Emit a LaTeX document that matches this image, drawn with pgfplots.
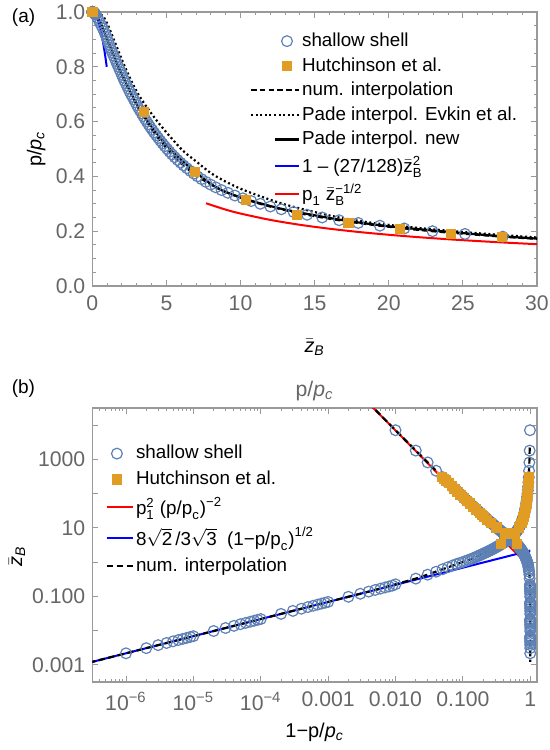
\documentclass[border=0pt]{standalone}
\usepackage{fontspec}
\setmainfont{Liberation Sans}
\usepackage{amsmath}
\usepackage{pgfplots}
\pgfplotsset{compat=1.18}
\usepackage{pgfplotstable}
\definecolor{circ}{RGB}{94,129,181}
\definecolor{hutch}{RGB}{225,156,36}
\definecolor{framegray}{gray}{0.6}
\definecolor{labgray}{gray}{0.4}

% shallow shell data: p/pc, 1-p/pc, zB
\pgfplotstableread{
p omp z
0.999999 1e-6 0.002177
0.999998 2e-6 0.003079
0.999997 3e-6 0.003771
0.999996 4e-6 0.004355
0.999995 5e-6 0.004869
0.999994 6e-6 0.005333
0.999993 7e-6 0.005761
0.999992 8e-6 0.006158
0.999991 9e-6 0.006532
0.99999 1e-5 0.006885
0.99998 2e-5 0.009737
0.99997 3e-5 0.011926
0.99996 4e-5 0.013771
0.99995 5e-5 0.015396
0.99994 6e-5 0.016866
0.99993 7e-5 0.018217
0.99992 8e-5 0.019475
0.99991 9e-5 0.020656
0.9999 1e-4 0.02177
0.9998 2e-4 0.03079
0.9997 3e-4 0.03771
0.9996 4e-4 0.04355
0.9995 5e-4 0.04869
0.9994 6e-4 0.05333
0.9993 7e-4 0.05761
0.9992 8e-4 0.06158
0.9991 9e-4 0.06532
0.999 0.001 0.06885
0.998 0.002 0.09737
0.997 0.003 0.11926
0.996 0.004 0.13771
0.995 0.005 0.15396
0.994 0.006 0.16866
0.993 0.007 0.18217
0.992 0.008 0.19475
0.991 0.009 0.20656
0.99 0.01 0.225
0.98 0.02 0.33
0.97 0.03 0.43
0.96 0.04 0.525
0.95 0.05 0.62
0.94 0.06 0.71
0.93 0.07 0.795
0.92 0.08 0.875
0.91 0.09 0.945
0.90 0.10 1.01
0.89 0.11 1.08
0.88 0.12 1.15
0.87 0.13 1.22
0.86 0.14 1.29
0.85 0.15 1.36
0.84 0.16 1.44
0.83 0.17 1.52
0.82 0.18 1.60
0.81 0.19 1.68
0.80 0.20 1.76
0.79 0.21 1.84
0.78 0.22 1.92
0.77 0.23 2.00
0.76 0.24 2.08
0.75 0.25 2.16
0.74 0.26 2.25
0.73 0.27 2.34
0.72 0.28 2.43
0.71 0.29 2.52
0.70 0.30 2.61
0.69 0.31 2.71
0.68 0.32 2.81
0.67 0.33 2.91
0.66 0.34 3.01
0.65 0.35 3.11
0.64 0.36 3.22
0.63 0.37 3.33
0.62 0.38 3.44
0.61 0.39 3.55
0.60 0.40 3.67
0.59 0.41 3.79
0.58 0.42 3.91
0.57 0.43 4.04
0.56 0.44 4.17
0.55 0.45 4.31
0.54 0.46 4.45
0.53 0.47 4.59
0.52 0.48 4.74
0.51 0.49 4.89
0.50 0.50 5.05
0.49 0.51 5.21
0.48 0.52 5.38
0.47 0.53 5.56
0.46 0.54 5.75
0.45 0.55 5.95
0.44 0.56 6.16
0.43 0.57 6.38
0.42 0.58 6.61
0.41 0.59 6.85
0.40 0.60 7.10
0.39 0.61 7.37
0.38 0.62 7.66
0.37 0.63 7.98
0.36 0.64 8.33
0.35 0.65 8.72
0.34 0.66 9.15
0.33 0.67 9.62
0.32 0.68 10.15
0.31 0.69 10.72
0.30 0.70 11.33
0.29 0.71 12.01
0.28 0.72 12.75
0.27 0.73 13.58
0.26 0.74 14.49
0.25 0.75 15.51
0.24 0.76 16.65
0.23 0.77 17.94
0.22 0.78 19.40
0.21 0.79 21.05
0.20 0.80 22.95
0.19 0.81 25.14
0.18 0.82 27.69
0.17 0.83 30.68
0.16 0.84 34.23
0.15 0.85 38.47
0.14 0.86 43.62
0.13 0.87 49.95
0.12 0.88 57.87
0.11 0.89 67.99
0.10 0.90 81.17
0.09 0.91 98.86
0.08 0.92 123.4
0.07 0.93 158.9
0.06 0.94 213.2
0.05 0.95 302.5
0.04 0.96 465.6
0.03 0.97 815
0.02 0.98 1805
0.01 0.99 7105
}\shallow

% Hutchinson et al.: zB, p/pc, 1-p/pc
\pgfplotstableread{
z p omp
3.455 0.634 0.366
6.91 0.417 0.583
10.37 0.314 0.686
13.82 0.259 0.741
17.28 0.229 0.771
20.73 0.207 0.793
24.19 0.190 0.810
27.64 0.178 0.822
34.55 0.1567 0.8433
41.46 0.1419 0.8581
51.83 0.1258 0.8742
62.19 0.1141 0.8859
76.01 0.1025 0.8975
93.29 0.0919 0.9081
114.0 0.0827 0.9173
138.2 0.0747 0.9253
165.8 0.0679 0.9321
200.4 0.0616 0.9384
241.9 0.0558 0.9442
276.4 0.0521 0.9479
311.0 0.0490 0.9510
}\hutchtab

\pgfplotsset{
  mystyle/.style={
    scale only axis, width=222.35bp, height=137bp, anchor=south west,
    axis line style={draw=framegray, line width=0.55bp},
    tick style={draw=framegray, line width=0.45bp},
    major tick length=3bp, minor tick length=1.7bp,
    tick label style={text=labgray, font=\fontsize{10.6bp}{12bp}\selectfont},
    label style={text=labgray, font=\fontsize{10.6bp}{12bp}\selectfont},
    xticklabel style={yshift=-1.5bp},
    legend style={draw=none, fill=none, text=black,
      font=\fontsize{9.4bp}{11bp}\selectfont, row sep=2bp, inner sep=1bp,
      nodes={inner sep=1bp}},
    legend cell align=left,
    every axis title shift=0pt,
  },
  circstyle/.style={only marks, mark=o, mark size=2.7bp, circ, mark options={line width=0.6bp}},
  sqstyle/.style={only marks, mark=square*, mark size=2.3bp, hutch},
  legmarkA/.style={legend image code/.code={\draw[mark repeat=2,mark phase=2,##1] plot coordinates {(12bp,0bp) (18bp,0bp) (24bp,0bp)};}},
  leglongA/.style={legend image code/.code={\draw[##1] (0bp,0bp) -- (24bp,0bp);}},
  legshortA/.style={legend image code/.code={\draw[##1] (12bp,0bp) -- (24bp,0bp);}},
  legmarkB/.style={legend image code/.code={\draw[mark repeat=2,mark phase=2,##1] plot coordinates {(0bp,0bp) (5bp,0bp) (10bp,0bp)};}},
  leglineB/.style={legend image code/.code={\draw[##1] (0bp,0bp) -- (13bp,0bp);}},
}

\begin{document}
\begin{tikzpicture}
\path[use as bounding box] (0,0) rectangle (275bp,375bp);

% ---------------- panel (a)
\begin{axis}[mystyle, at={(46.15bp,232bp)},
  xmin=0, xmax=30, ymin=0, ymax=1,
  xtick={0,5,10,15,20,25,30}, xticklabels={0,5,10,15,20,25,30},
  ytick={0,0.2,0.4,0.6,0.8,1}, yticklabels={0.0,0.2,0.4,0.6,0.8,1.0},
  minor x tick num=4, minor y tick num=3,
  every axis x label/.style={at={(rel axis cs:0.5,0)}, yshift=-30.5bp, anchor=center},
  every axis y label/.style={at={(rel axis cs:0,0.5)}, xshift=-28bp, rotate=90, anchor=center},
  xlabel={$\bar{\textit{z}}_{\textit{B}}$},
  ylabel={p/\textit{p}\textsubscript{\textit{c}}},
  legend style={at={(0.965,0.94)}, anchor=north east},
]
\addplot[circstyle, restrict x to domain=0:30.5, legmarkA]
  table[x=z, y=p] {\shallow};
\addlegendentry{shallow shell}
\addplot[sqstyle, legmarkA]
  coordinates {(0,1) (3.455,0.634) (6.91,0.417) (10.37,0.314) (13.82,0.259) (17.28,0.229) (20.73,0.207) (24.19,0.190) (27.64,0.178)};
\addlegendentry{Hutchinson et al.}
\addplot[black, line width=1.1bp, dash pattern=on 2.8bp off 1.6bp, smooth, leglongA]
  coordinates {(0,1) (0.0689,0.999) (0.154,0.995) (0.225,0.99) (0.33,0.98) (0.43,0.97) (0.62,0.95) (1.01,0.90) (1.36,0.85) (1.76,0.80) (2.16,0.75) (2.61,0.70) (3.11,0.65) (3.67,0.60) (4.31,0.55) (5.05,0.50) (5.95,0.45) (7.10,0.40) (8.72,0.35) (10.15,0.32) (11.33,0.30) (12.75,0.28) (14.49,0.26) (16.65,0.24) (19.40,0.22) (22.95,0.20) (27.69,0.18) (30.68,0.17)};
\addlegendentry{num. interpolation}
\addplot[black, line width=1.1bp, dash pattern=on 1bp off 1.3bp, smooth, leglongA]
  coordinates {(0,1) (0.5,0.995) (0.9,0.97) (1.42,0.904) (2.2,0.80) (3.1,0.70) (4.4,0.60) (6.0,0.50) (7.0,0.455) (8.2,0.405) (10,0.355) (12.66,0.303) (15,0.27) (17.15,0.245) (20,0.223) (25,0.197) (30,0.177)};
\addlegendentry{Pade interpol. Evkin et al.}
\addplot[black, line width=1.1bp, smooth, legshortA]
  coordinates {(0,1) (0.3,0.99) (0.6,0.955) (0.97,0.904) (1.4,0.85) (1.75,0.80) (2.2,0.75) (2.65,0.70) (3.15,0.65) (3.75,0.60) (4.45,0.55) (5.24,0.50) (6.1,0.455) (7.2,0.405) (8.2,0.365) (9,0.343) (10.41,0.316) (12.66,0.283) (14.9,0.259) (17.15,0.238) (20,0.218) (22.5,0.205) (25,0.193) (27.5,0.182) (30,0.173)};
\addlegendentry{Pade interpol. new}
\addplot[blue, line width=1bp, smooth, legshortA]
  coordinates {(0,1) (0.2,0.9916) (0.4,0.9663) (0.5,0.9473) (0.6,0.9241) (0.7,0.8967) (0.8,0.8650) (0.9,0.8292) (0.974,0.7999)};
\addlegendentry{$\text{1 – (27/128)}\bar{\text{z}}_{\text{B}}^{\text{2}}$}
\addplot[red, line width=1bp, smooth, legshortA]
  coordinates {(7.67,0.3019) (9,0.2787) (10,0.2644) (12,0.2413) (14,0.2234) (16,0.2090) (18,0.1970) (20,0.1869) (22,0.1782) (24,0.1706) (26,0.1640) (28,0.1580) (30,0.1526)};
\addlegendentry{$\text{p}_{\text{1}}\;\bar{\text{z}}_{\text{B}}^{\text{−1/2}}$}
\end{axis}

% ---------------- panel (b)
\begin{axis}[mystyle, at={(46.15bp,34bp)},
  xmode=log, ymode=log,
  xmin=3.162e-7, xmax=1.259, ymin=3.162e-4, ymax=3.162e4,
  xtick={1e-6,1e-5,1e-4,1e-3,1e-2,1e-1,1},
  xticklabels={10\textsuperscript{−6},10\textsuperscript{−5},10\textsuperscript{−4},0.001,0.010,0.100,1},
  minor xtick={4e-7,5e-7,6e-7,7e-7,8e-7,9e-7,
    2e-6,3e-6,4e-6,5e-6,6e-6,7e-6,8e-6,9e-6,
    2e-5,3e-5,4e-5,5e-5,6e-5,7e-5,8e-5,9e-5,
    2e-4,3e-4,4e-4,5e-4,6e-4,7e-4,8e-4,9e-4,
    0.002,0.003,0.004,0.005,0.006,0.007,0.008,0.009,
    0.02,0.03,0.04,0.05,0.06,0.07,0.08,0.09,
    0.2,0.3,0.4,0.5,0.6,0.7,0.8,0.9},
  ytick={1e-3,1e-2,1e-1,1,10,100,1000,1e4},
  yticklabels={0.001,,0.100,,10,,1000,},
  yminorticks=false,
  every axis x label/.style={at={(rel axis cs:0.5,0)}, yshift=-25bp, anchor=center},
  every axis y label/.style={at={(rel axis cs:0,0.46)}, xshift=-37.6bp, rotate=90, anchor=center},
  xlabel={1−p/\textit{p}\textsubscript{\textit{c}}},
  ylabel={$\bar{\textit{z}}_{\textit{B}}$},
  title={p/\textit{p}\textsubscript{\textit{c}}},
  title style={at={(0.5,1)}, anchor=center, yshift=8.5bp, text=labgray, font=\fontsize{10.6bp}{12bp}\selectfont},
  legend style={at={(0.025,0.88)}, anchor=north west, row sep=2.6bp},
]
\addplot[circstyle, legmarkB] table[x=p, y=z] {\shallow};
\addlegendentry{shallow shell}
\addplot[circstyle, forget plot] table[x=omp, y=z] {\shallow};
\addplot[sqstyle, legmarkB] table[x=p, y=z] {\hutchtab};
\addlegendentry{Hutchinson et al.}
\addplot[sqstyle, forget plot] table[x=omp, y=z] {\hutchtab};
\addplot[red, line width=1bp, leglineB]
  coordinates {(0.004,43687.5) (1,0.699)};
\addlegendentry{$\text{p}_{\text{1}}^{\text{2}}\;\text{(p/p}_{\text{c}}\text{)}^{\text{−2}}$}
\addplot[blue, line width=1bp, leglineB]
  coordinates {(3.162e-7,0.0012243) (1,2.1773)};
\addlegendentry{$\text{8}\sqrt{\text{2}}\,\text{/3}\sqrt{\text{3}}\;\;\text{(1−p/p}_{\text{c}}\text{)}^{\text{1/2}}$}
\addplot[black, line width=1.1bp, dash pattern=on 3.2bp off 1.7bp, leglineB]
  coordinates {(0.004,43980) (0.01,7105) (0.02,1805) (0.03,815) (0.05,302.5) (0.07,158.9) (0.1,81.17) (0.15,38.47) (0.2,22.95) (0.25,15.51) (0.3,11.33) (0.35,8.72) (0.4,7.10) (0.45,5.95) (0.5,5.05) (0.55,4.31) (0.6,3.67) (0.65,3.11) (0.7,2.61) (0.75,2.16) (0.8,1.76) (0.85,1.36) (0.9,1.01) (0.95,0.62) (0.97,0.43) (0.98,0.33) (0.99,0.225) (0.995,0.154) (0.999,0.0689) (0.9999,0.02177) (0.99999,0.006885) (0.999999,0.002177) (1,0.0012243)};
\addlegendentry{num. interpolation}
\addplot[black, line width=1.1bp, dash pattern=on 3.2bp off 1.7bp, forget plot]
  coordinates {(0.982,2221) (0.97,815) (0.95,302.5) (0.93,158.9) (0.9,81.17) (0.85,38.47) (0.8,22.95) (0.75,15.51) (0.7,11.33) (0.65,8.72) (0.6,7.10) (0.55,5.95) (0.5,5.05) (0.45,4.31) (0.4,3.67) (0.35,3.11) (0.3,2.61) (0.25,2.16) (0.2,1.76) (0.15,1.36) (0.1,1.01) (0.05,0.62) (0.03,0.43) (0.02,0.33) (0.01,0.225) (0.005,0.154) (0.001,0.0689) (1e-4,0.02177) (1e-5,0.006885) (1e-6,0.002177) (3.162e-7,0.0012243)};
\end{axis}

\node at (11.8bp,366.2bp) {\fontsize{9.5bp}{11bp}\selectfont (a)};
\node at (11.7bp,180.8bp) {\fontsize{9.5bp}{11bp}\selectfont (b)};
\end{tikzpicture}
\end{document}
